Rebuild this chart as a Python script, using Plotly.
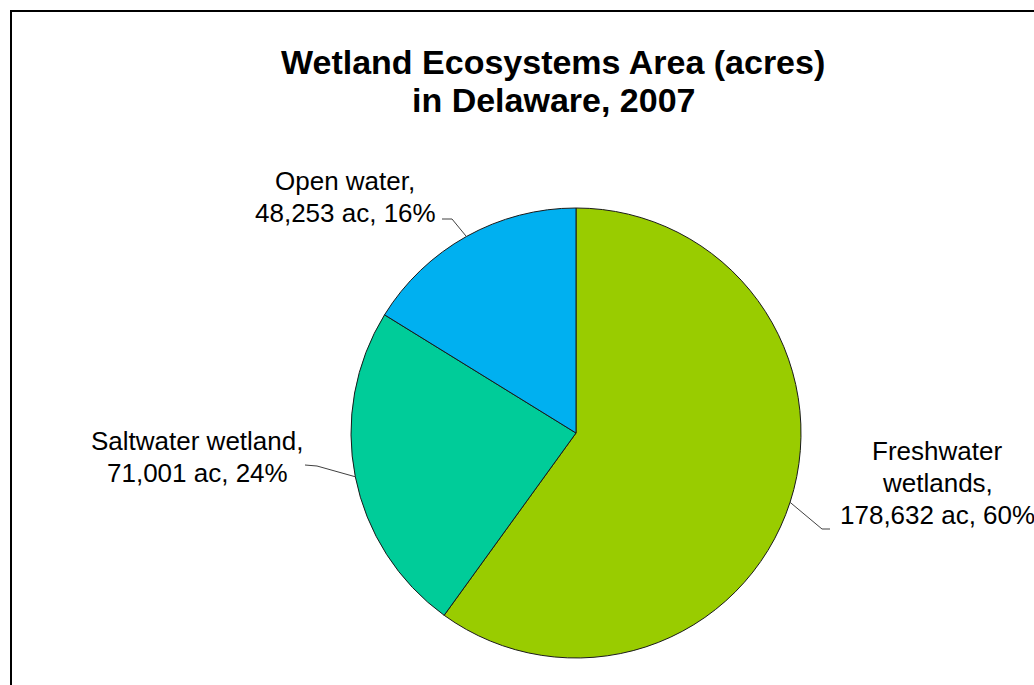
import math
import plotly.graph_objects as go

# ---- data ----
categories = ["Freshwater wetlands", "Saltwater wetland", "Open water"]
label_lines = [["Freshwater", "wetlands,"], ["Saltwater wetland,"], ["Open water,"]]
acres = [178632, 71001, 48253]
percents = [60, 24, 16]
colors = ["#99CC00", "#00CC99", "#00B0F0"]

W, H = 1034, 685
CX, CY, R = 576, 433, 225  # pie centre / radius in pixels

def px(x):
    return x / W

def py(y):
    return 1 - y / H

fig = go.Figure(go.Pie(
    labels=categories,
    values=acres,
    sort=False,
    direction="clockwise",
    rotation=0,
    textinfo="none",
    hoverinfo="label+value+percent",
    marker=dict(colors=colors, line=dict(color="#1a1a1a", width=1)),
    domain=dict(x=[px(CX - R), px(CX + R)], y=[py(CY + R), py(CY - R)]),
    showlegend=False,
))

font = "Liberation Sans, Arial, sans-serif"

# label layout: centre x, first line y, line step (pixels)
label_pos = [(937, 451), (197, 441), (345, 181)]
LINE_STEP = 32
elbows = [(822, 529), (317, 466), (452, 219)]
ends = [(830, 529), (305, 465), (442, 219)]

annotations = []
shapes = []
total = sum(acres)
cum = 0
for i, v in enumerate(acres):
    mid = (cum + v / 2) / total * 360
    cum += v
    ex = CX + R * math.sin(math.radians(mid))
    ey = CY - R * math.cos(math.radians(mid))
    lines = label_lines[i] + [f"{acres[i]:,} ac, {percents[i]}%"]
    lx, ly = label_pos[i]
    for k, line in enumerate(lines):
        annotations.append(dict(
            x=px(lx), y=py(ly + k * LINE_STEP), xref="paper", yref="paper", text=line,
            showarrow=False, xanchor="center", yanchor="middle", align="center",
            font=dict(family=font, size=26, color="#000000"),
        ))
    bx, by = elbows[i]
    fx, fy = ends[i]
    shapes.append(dict(type="line", xref="paper", yref="paper",
                       x0=px(ex), y0=py(ey), x1=px(bx), y1=py(by),
                       line=dict(color="#404040", width=1)))
    shapes.append(dict(type="line", xref="paper", yref="paper",
                       x0=px(bx), y0=py(by), x1=px(fx), y1=py(fy),
                       line=dict(color="#404040", width=1)))

# title (two lines, tight spacing)
annotations.append(dict(x=px(553), y=py(62), xref="paper", yref="paper",
                        text="<b>Wetland Ecosystems Area (acres)</b>", showarrow=False,
                        xanchor="center", yanchor="middle",
                        font=dict(family=font, size=34, color="#000000")))
annotations.append(dict(x=px(554), y=py(100), xref="paper", yref="paper",
                        text="<b>in Delaware, 2007</b>", showarrow=False,
                        xanchor="center", yanchor="middle",
                        font=dict(family=font, size=34, color="#000000")))

# chart area border (extends past right and bottom edges)
shapes.append(dict(type="rect", xref="paper", yref="paper",
                   x0=px(11), y0=-0.05, x1=1.05, y1=py(11),
                   line=dict(color="#000000", width=2), fillcolor="rgba(0,0,0,0)"))

fig.update_layout(
    width=W, height=H,
    margin=dict(l=0, r=0, t=0, b=0),
    paper_bgcolor="white", plot_bgcolor="white",
    annotations=annotations, shapes=shapes,
)

fig.write_html("out.html")
